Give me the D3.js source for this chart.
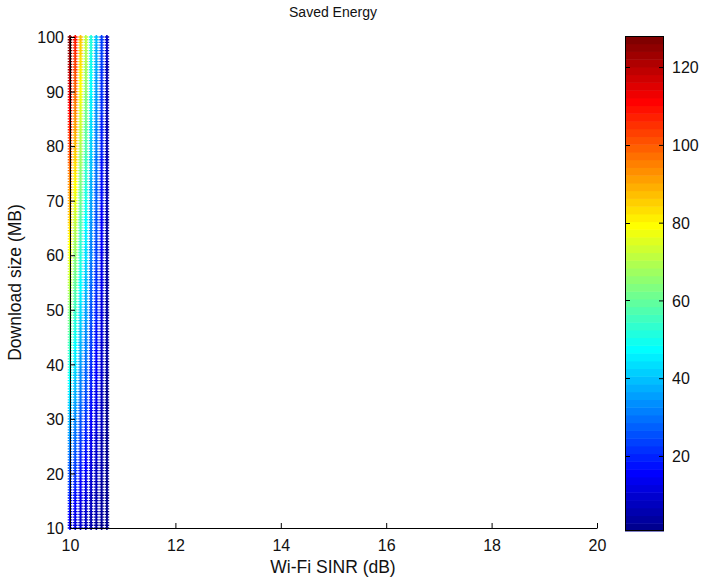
<!DOCTYPE html>
<html>
<head>
<meta charset="utf-8">
<script src="https://cdn.jsdelivr.net/npm/d3@7"></script>
<style>
  html, body { margin: 0; padding: 0; background: #fff; }
  svg { display: block; }
  text { font-family: "Liberation Sans", Arial, sans-serif; fill: #111; }
</style>
</head>
<body>
<svg id="chart" width="701" height="579"></svg>
<script>
// ---- data ----
const sinrValues = [10.0, 10.1, 10.2, 10.3, 10.4, 10.5, 10.6, 10.7];      // x columns (dB)
const downloadSizes = d3.range(10, 100.001, 0.5);                           // y rows (MB), 10:0.5:100
const savedPerMB = [1.28, 1.09, 0.87, 0.72, 0.52, 0.39, 0.24, 0.07];        // saved energy per MB at each SINR column
const xTicks = [10, 12, 14, 16, 18, 20];
const yTicks = [10, 20, 30, 40, 50, 60, 70, 80, 90, 100];
const cTicks = [20, 40, 60, 80, 100, 120];
const titleText = "Saved Energy";
const xLabel = "Wi-Fi SINR (dB)";
const yLabel = "Download size (MB)";

// ---- MATLAB jet(64) colormap ----
function jet64() {
  const n = 16, u = [];
  for (let i = 1; i <= n; i++) u.push(i / n);
  for (let i = 0; i < n - 1; i++) u.push(1);
  for (let i = n; i >= 1; i--) u.push(i / n);
  const cols = [];
  for (let row = 1; row <= 64; row++) {
    const r = (row >= 25) ? (u[row - 25] !== undefined ? u[row - 25] : 0) : 0;
    const g = (row >= 9 && row <= 55) ? u[row - 9] : 0;
    const b = (row <= 39) ? u[row + 7] : 0;
    cols.push(d3.rgb(r * 255, g * 255, b * 255).formatHex());
  }
  return cols;
}
const cmap = jet64();

// ---- build points ----
const points = [];
sinrValues.forEach((x, i) => {
  downloadSizes.forEach(y => {
    points.push({ x, y, e: y * savedPerMB[i] });
  });
});
const cmin = d3.min(points, d => d.e), cmax = d3.max(points, d => d.e);
function colorOf(v) {
  let k = Math.floor((v - cmin) / (cmax - cmin) * 64);
  k = Math.max(0, Math.min(63, k));
  return cmap[k];
}

// ---- layout ----
const svg = d3.select("#chart");
const plot = { left: 70, right: 597, top: 37, bottom: 528 };
const x = d3.scaleLinear().domain([10, 20]).range([plot.left, plot.right]);
const y = d3.scaleLinear().domain([10, 100]).range([plot.bottom, plot.top]);
const FONT = "'Liberation Sans', Arial, sans-serif";

// markers (small plus shapes)
const g = svg.append("g");
const plusPath = "M-2.3,-0.65H2.3V0.65H-2.3Z M-0.8,-2.1H0.8V2.1H-0.8Z";
g.selectAll("path.pt").data(points).join("path")
  .attr("class", "pt")
  .attr("transform", d => `translate(${x(d.x)},${y(d.y)})`)
  .attr("d", plusPath)
  .attr("fill", d => colorOf(d.e));

// axes
const tickLen = 5;
const xAxis = d3.axisBottom(x).tickValues(xTicks).tickSizeInner(-tickLen).tickSizeOuter(0).tickPadding(12);
const yAxis = d3.axisLeft(y).tickValues(yTicks).tickSizeInner(-tickLen).tickSizeOuter(0).tickPadding(6);
const gx = svg.append("g").attr("transform", `translate(0,${plot.bottom})`).call(xAxis);
const gy = svg.append("g").attr("transform", `translate(${plot.left},0)`).call(yAxis);
[gx, gy].forEach(a => {
  a.select(".domain").attr("stroke", "#000").attr("stroke-width", 1);
  a.selectAll(".tick line").attr("stroke", "#000");
  a.selectAll(".tick text").attr("font-size", 16).attr("fill", "#111").attr("font-family", FONT);
});
gy.selectAll(".tick text").attr("dy", "0.36em");

// title & labels
svg.append("text").attr("x", 333).attr("y", 17).attr("text-anchor", "middle")
  .attr("font-size", 14).text(titleText);
svg.append("text").attr("x", 333).attr("y", 573).attr("text-anchor", "middle")
  .attr("font-size", 17.5).text(xLabel);
svg.append("text").attr("transform", `translate(21,${(plot.top + plot.bottom) / 2}) rotate(-90)`)
  .attr("text-anchor", "middle").attr("font-size", 17.5).text(yLabel);

// colorbar
const cb = { left: 625, right: 664, top: 36, bottom: 531 };
const cy = d3.scaleLinear().domain([cmin, cmax]).range([cb.bottom, cb.top]);
const bandH = (cb.bottom - cb.top) / 64;
svg.append("g").selectAll("rect").data(cmap).join("rect")
  .attr("x", cb.left).attr("width", cb.right - cb.left)
  .attr("y", (d, i) => cb.bottom - (i + 1) * bandH)
  .attr("height", bandH + 0.5)
  .attr("fill", d => d);
svg.append("rect").attr("x", cb.left + 0.5).attr("y", cb.top + 0.5)
  .attr("width", cb.right - cb.left - 1).attr("height", cb.bottom - cb.top - 1)
  .attr("fill", "none").attr("stroke", "#000");
const cAxis = d3.axisRight(cy).tickValues(cTicks).tickSizeInner(-tickLen).tickSizeOuter(0).tickPadding(8);
const gc = svg.append("g").attr("transform", `translate(${cb.right},0)`).call(cAxis);
gc.select(".domain").remove();
gc.selectAll(".tick line").attr("stroke", "#000");
gc.selectAll(".tick text").attr("font-size", 16).attr("fill", "#111").attr("dy", "0.36em")
  .attr("font-family", FONT);
// left-edge ticks on colorbar
svg.append("g").selectAll("line").data(cTicks).join("line")
  .attr("x1", cb.left).attr("x2", cb.left + tickLen)
  .attr("y1", d => Math.round(cy(d)) + 0.5).attr("y2", d => Math.round(cy(d)) + 0.5)
  .attr("stroke", "#000");
</script>
</body>
</html>
